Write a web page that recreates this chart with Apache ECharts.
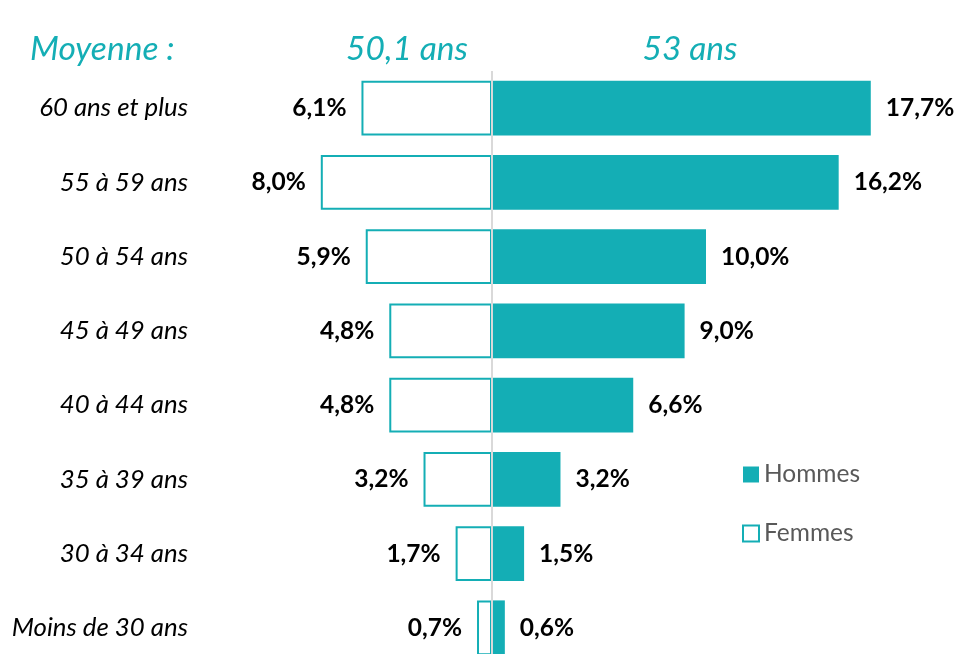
<!DOCTYPE html>
<html>
<head>
<meta charset="utf-8">
<script src="https://cdn.jsdelivr.net/npm/echarts@6/dist/echarts.min.js"></script>
<style>
  html, body { margin: 0; padding: 0; background: #fff; overflow: hidden; }
  #chart { width: 954px; height: 665px; }
</style>
</head>
<body>
<div id="chart"></div>
<script>
// Pyramide des âges — Femmes à gauche (contour), Hommes à droite (plein)
const TEAL = "#14aeb5";
const INK = "#000000";
const LEGEND_INK = "#595959";
const AXIS = "#d9d9d9";
const FONT = "Lato, 'Open Sans', sans-serif";

const categories = [
  "60 ans et plus", "55 à 59 ans", "50 à 54 ans", "45 à 49 ans",
  "40 à 44 ans", "35 à 39 ans", "30 à 34 ans", "Moins de 30 ans",
];
const hommes = [17.7, 16.2, 10.0, 9.0, 6.6, 3.2, 1.5, 0.6];
const femmes = [6.1, 8.0, 5.9, 4.8, 4.8, 3.2, 1.7, 0.7];
const moyenneLabel = "Moyenne :";
const moyenneFemmes = "50,1 ans";
const moyenneHommes = "53 ans";

const fmt = (v) => Math.abs(v).toFixed(1).replace(".", ",") + "%";

const chart = echarts.init(document.getElementById("chart"));
chart.setOption({
  animation: false,
  backgroundColor: "#fff",
  textStyle: { fontFamily: FONT },
  grid: { left: 278, right: 34, top: 71, bottom: 0 },
  legend: {
    orient: "vertical",
    left: 742,
    top: 462,
    padding: 0,
    itemGap: 34,
    itemWidth: 16,
    itemHeight: 16,
    icon: "rect",
    textStyle: { color: LEGEND_INK, fontSize: 24.5, fontFamily: FONT },
    data: ["Hommes", "Femmes"],
  },
  graphic: [
    { type: "text", x: 30, y: 49, style: { text: moyenneLabel, fill: TEAL, font: "italic 33.5px " + FONT, verticalAlign: "middle" } },
    { type: "text", x: 407, y: 49, style: { text: moyenneFemmes, fill: TEAL, font: "italic 33.5px " + FONT, align: "center", verticalAlign: "middle" } },
    { type: "text", x: 690, y: 49, style: { text: moyenneHommes, fill: TEAL, font: "italic 33.5px " + FONT, align: "center", verticalAlign: "middle" } },
  ],
  xAxis: {
    type: "value",
    min: -10,
    max: 20,
    show: false,
  },
  yAxis: {
    type: "category",
    inverse: true,
    data: categories,
    axisLine: { show: false },
    axisTick: { show: false },
    axisLabel: {
      color: INK,
      fontSize: 25.8,
      fontStyle: "italic",
      fontFamily: FONT,
      margin: 90,
    },
  },
  series: [
    {
      name: "Hommes",
      type: "bar",
      barWidth: "74%",
      barGap: "-100%",
      itemStyle: { color: TEAL },
      label: {
        show: true,
        position: "right",
        distance: 15,
        color: INK,
        fontSize: 24.5,
        fontWeight: "bold",
        fontFamily: FONT,
        formatter: (p) => fmt(p.value),
      },
      markLine: {
        silent: true,
        symbol: "none",
        label: { show: false },
        lineStyle: { color: AXIS, width: 2, type: "solid" },
        data: [{ xAxis: 0 }],
      },
      z: 3,
      data: hommes,
    },
    {
      name: "Femmes",
      type: "bar",
      barWidth: "74%",
      itemStyle: { color: "#ffffff", borderColor: TEAL, borderWidth: 2 },
      label: {
        show: true,
        position: "left",
        distance: 15,
        color: INK,
        fontSize: 24.5,
        fontWeight: "bold",
        fontFamily: FONT,
        formatter: (p) => fmt(p.value),
      },
      z: 2,
      data: femmes.map((v) => -v),
    },
  ],
});
</script>
</body>
</html>
